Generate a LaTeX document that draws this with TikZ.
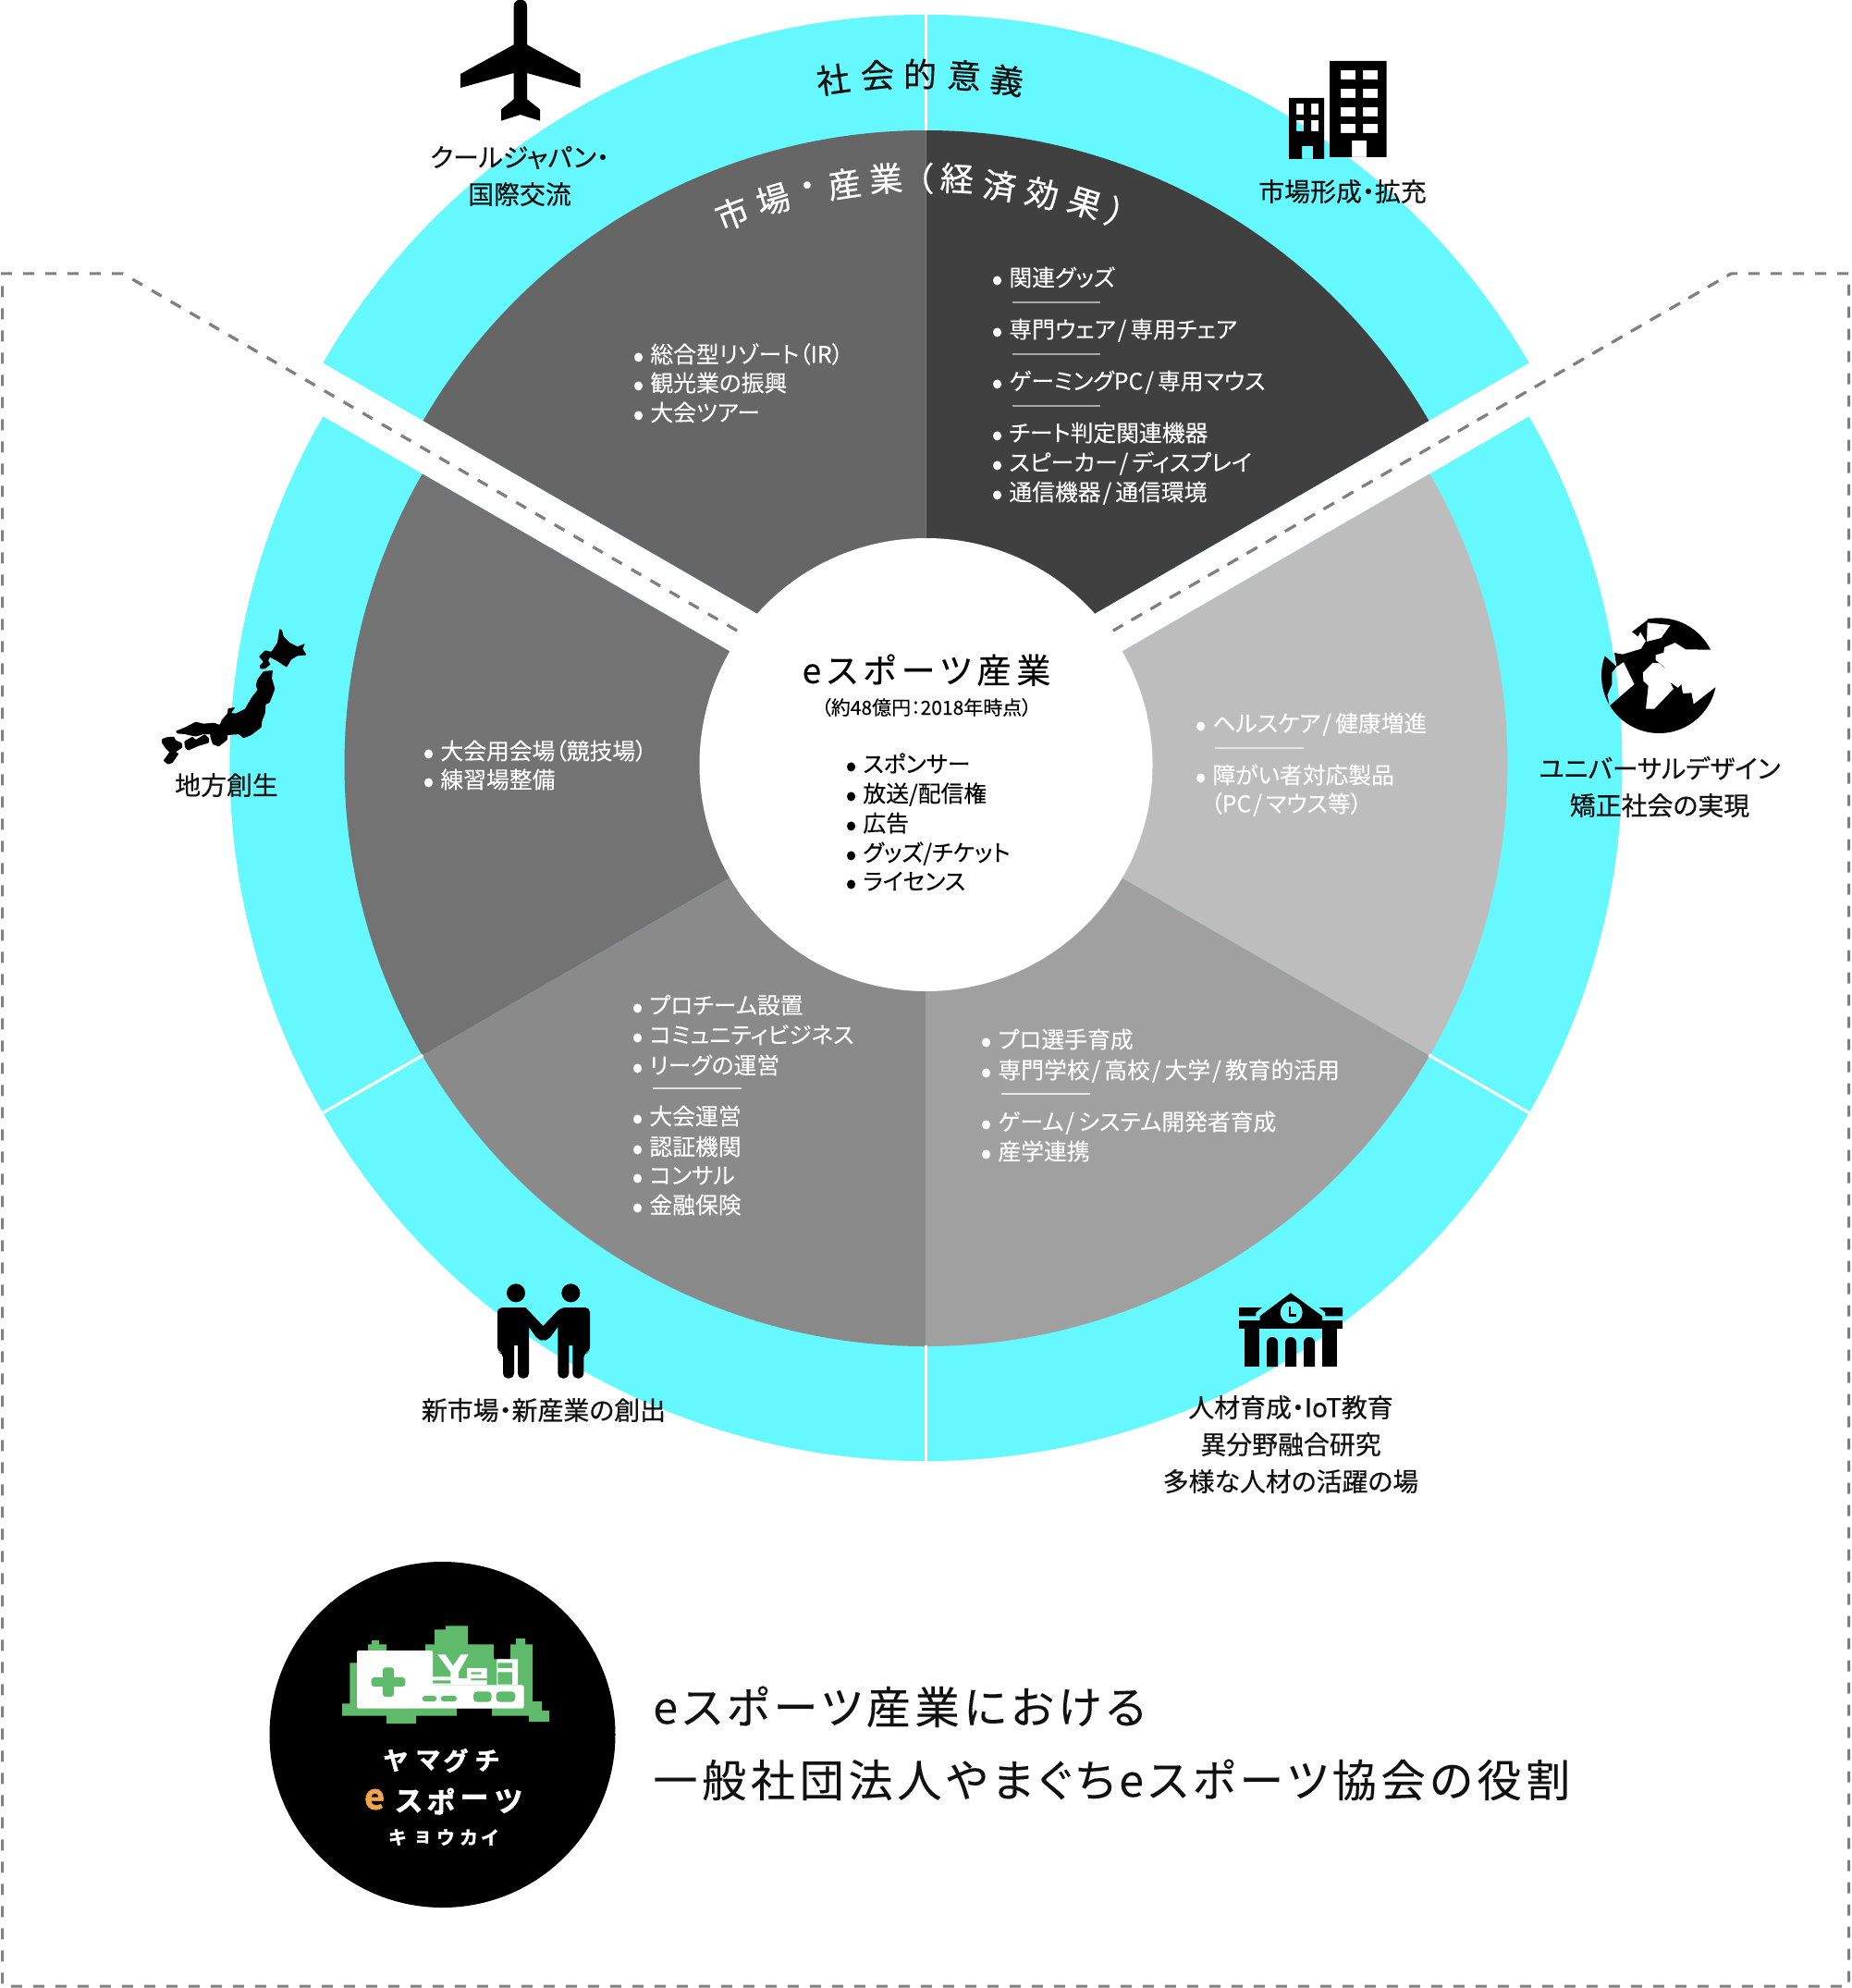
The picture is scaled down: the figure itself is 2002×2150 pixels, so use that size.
\documentclass[tikz,border=0pt]{standalone}
\usepackage{fontspec}
\setmainfont{Noto Sans CJK JP}[RawFeature=+palt]
\newfontfamily\jpl{Noto Sans CJK JP}[RawFeature=+palt,FakeBold=0.15]
\newfontfamily\jpm{Noto Sans CJK JP}[RawFeature=+palt,FakeBold=0.45]
\newfontfamily\jpa{Noto Sans CJK JP}[RawFeature=+palt,FakeBold=0.55]
\newfontfamily\jpt{Noto Sans CJK JP}[RawFeature=+palt,LetterSpace=16,FakeBold=0.3]
\newfontfamily\jph{Noto Sans CJK JP}[RawFeature=+palt,LetterSpace=10,FakeBold=0.15]
\newfontfamily\jplogo{Noto Sans CJK JP Bold}[FakeBold=1.8]
\definecolor{ringc}{HTML}{66F8FF}
\definecolor{sTR}{HTML}{404040}
\definecolor{sTL}{HTML}{666666}
\definecolor{sL}{HTML}{737373}
\definecolor{sBL}{HTML}{8A8A8A}
\definecolor{sBR}{HTML}{A0A0A0}
\definecolor{sR}{HTML}{BDBDBD}
\definecolor{dashc}{HTML}{808080}
\definecolor{rulec}{HTML}{A8A8A8}
\definecolor{logog}{HTML}{5FBA6B}
\definecolor{logoo}{HTML}{F0A54A}
\definecolor{txtc}{HTML}{111111}
\newcounter{nodec}
\newcommand{\pie}[6]{\fill[#1] (#2,#3) -- ++(#4:#6) arc[start angle=#4,end angle=#5,radius=#6] -- cycle;}
\newcommand{\ch}[5][]{\stepcounter{nodec}\node[arcch,#1,rotate=#4] (c\thenodec) at (#2,#3) {#5};}
\newcommand{\blt}{\makebox[9.5pt][l]{\smash{\raisebox{-2.3pt}{\fontsize{18}{18}\selectfont •}}}}
\newcommand{\sla}{\hspace{.08em}/\hspace{.16em}}
\newcommand{\li}[4][black]{\stepcounter{nodec}\node[listt,text=#1] (l\thenodec) at (#2,#3) {#4};}
\newcommand{\lab}[3]{\stepcounter{nodec}\node[labt] (b\thenodec) at (#1,#2) {#3};}
\tikzset{
 arcch/.style={inner sep=0pt,anchor=center},
 listt/.style={inner sep=0pt,anchor=base west,yshift=-4.7pt,font=\fontsize{12.4}{12.4}\selectfont\jpl},
 labt/.style={inner sep=0pt,anchor=base,yshift=-5.3pt,text=txtc,font=\fontsize{13.95}{13.95}\selectfont\jpm},
 sepline/.style={white,line width=1.6pt},
 rulel/.style={rulec,line width=1pt},
 framel/.style={dashc,line width=1.5pt,dash pattern=on 6pt off 6pt},
}
\begin{document}
\begin{tikzpicture}[x=0.5pt,y=0.5pt]
\useasboundingbox (0,-2150) rectangle (2002,0);
% frame
\coordinate (f1) at (797,-682); \coordinate (f2) at (133,-296); \coordinate (f3) at (2.5,-296);
\coordinate (f4) at (2.5,-2148); \coordinate (f5) at (1999.5,-2148); \coordinate (f6) at (1999.5,-296);
\coordinate (f7) at (1872,-296); \coordinate (f8) at (1204,-682);
\draw[framel] (f1)--(f2)--(f3)--(f4)--(f5)--(f6)--(f7)--(f8);
% rings
\pie{ringc}{1001.5}{-769}{30}{150}{753}
\pie{ringc}{1001.5}{-827}{150}{390}{753}
\pie{sTR}{1001.5}{-769}{30}{90}{628}
\pie{sTL}{1001.5}{-769}{90}{150}{628}
\pie{sL}{1001.5}{-827}{150}{210}{629}
\pie{sBL}{1001.5}{-827}{210}{270}{629}
\pie{sBR}{1001.5}{-827}{270}{330}{629}
\pie{sR}{1001.5}{-827}{330}{390}{629}
\coordinate (T) at (1001.5,-769); \coordinate (L) at (1001.5,-827);
\draw[sepline] (T)++(90:628)--++(90:125);
\draw[sepline] (L)++(270:628)--++(270:125);
\draw[sepline] (L)++(210:628)--++(210:125);
\draw[sepline] (L)++(330:628)--++(330:125);
\fill[white] (L) circle[radius=245];
% frame ends over the gap
\draw[framel] (f1)--(f2);
\draw[framel] (f8)--(f7);
% arc titles
\begin{scope}[every node/.append style={text=txtc,font=\fontsize{18}{18}\selectfont\jpa}]
\ch{901}{-86}{8}{社}\ch{949}{-81.5}{4}{会}\ch{995}{-80}{0}{的}\ch{1043}{-81.5}{-4}{意}\ch{1089}{-87}{-8}{義}
\end{scope}
\begin{scope}[every node/.append style={text=white,font=\fontsize{18}{18}\selectfont\jpa}]
\ch{792}{-231}{21}{市}\ch{836}{-216}{16.6}{場}\ch{874}{-205}{12.7}{・}\ch{913}{-199}{8.8}{産}\ch{958}{-193}{4.3}{業}
\ch{1000}{-193}{0}{（}\ch{1035}{-193}{-3.3}{経}\ch{1081}{-201}{-8}{済}\ch{1127}{-209}{-12.7}{効}\ch{1173}{-220}{-17.4}{果}\ch{1207}{-230}{-21}{）}
\end{scope}
% lists: top right
\li[white]{1072}{-300}{\blt 関連グッズ}
\li[white]{1072}{-356}{\blt 専門ウェア\sla 専用チェア}
\li[white]{1072}{-412}{\blt ゲーミングPC\sla 専用マウス}
\li[white]{1072}{-468}{\blt チート判定関連機器}
\li[white]{1072}{-500}{\blt スピーカー\sla ディスプレイ}
\li[white]{1072}{-532}{\blt 通信機器\sla 通信環境}
\coordinate (r1a) at (1095,-327); \coordinate (r1b) at (1190,-327);
\coordinate (r2a) at (1095,-383); \coordinate (r2b) at (1190,-383);
\coordinate (r3a) at (1095,-439); \coordinate (r3b) at (1190,-439);
\draw[rulel] (r1a)--(r1b); \draw[rulel] (r2a)--(r2b); \draw[rulel] (r3a)--(r3b);
% top left
\li[white]{684}{-383}{\blt 総合型リゾート（IR）}
\li[white]{684}{-414}{\blt 観光業の振興}
\li[white]{684}{-446}{\blt 大会ツアー}
% left
\li[white]{457}{-812}{\blt 大会用会場（競技場）}
\li[white]{457}{-843}{\blt 練習場整備}
% bottom left
\li[white]{683}{-1087}{\blt プロチーム設置}
\li[white]{683}{-1119}{\blt コミュニティビジネス}
\li[white]{683}{-1152}{\blt リーグの運営}
\li[white]{683}{-1207}{\blt 大会運営}
\li[white]{683}{-1240}{\blt 認証機関}
\li[white]{683}{-1271}{\blt コンサル}
\li[white]{683}{-1303}{\blt 金融保険}
\coordinate (r4a) at (706,-1177); \coordinate (r4b) at (802,-1177);
\draw[rulel,white!75!sBL] (r4a)--(r4b);
% bottom right
\li[white]{1060}{-1124}{\blt プロ選手育成}
\li[white]{1060}{-1157}{\blt 専門学校\sla 高校\sla 大学\sla 教育的活用}
\li[white]{1060}{-1213}{\blt ゲーム\sla システム開発者育成}
\li[white]{1060}{-1245}{\blt 産学連携}
\coordinate (r5a) at (1083,-1183); \coordinate (r5b) at (1179,-1183);
\draw[rulel,white!75!sBR] (r5a)--(r5b);
% right
\li[white]{1292}{-782}{\blt ヘルスケア\sla 健康増進}
\li[white]{1292}{-838}{\blt 障がい者対応製品}
\li[white]{1309}{-869}{（PC\sla マウス等）}
\coordinate (r6a) at (1314,-809); \coordinate (r6b) at (1410,-809);
\draw[rulel,white!60!sR] (r6a)--(r6b);
% centre
\node[inner sep=0pt,anchor=base,yshift=-6.9pt,font=\fontsize{18.5}{18.5}\selectfont\jpt,text=black] (ctitle) at (1002,-725) {eスポーツ産業};
\node[inner sep=0pt,anchor=base,yshift=-4pt,font=\fontsize{10.5}{10.5}\selectfont\jpl,text=black] (csub) at (1002,-765) {（約48億円：2018年時点）};
\li{914}{-826}{\blt スポンサー}
\li{914}{-858}{\blt 放送/配信権}
\li{914}{-890}{\blt 広告}
\li{914}{-922}{\blt グッズ/チケット}
\li{914}{-953}{\blt ライセンス}
% labels
\lab{562}{-170}{クールジャパン・}
\lab{562}{-210}{国際交流}
\lab{1452}{-207}{市場形成・拡充}
\lab{245}{-849}{地方創生}
\lab{1795}{-831}{ユニバーサルデザイン}
\lab{1795}{-871}{矯正社会の実現}
\lab{588}{-1525}{新市場・新産業の創出}
\lab{1396}{-1522}{人材育成・IoT教育}
\lab{1396}{-1562}{異分野融合研究}
\lab{1396}{-1602}{多様な人材の活躍の場}
% plane
\begin{scope}[shift={(480,0)},scale=1/3]
\fill[black] (227,-20) arc[start angle=180,end angle=0,radius=21.5] -- (270,-145) -- (443,-240) -- (443,-285) -- (270,-237) -- (270,-322) -- (312,-355) -- (312,-392) -- (248,-372) -- (186,-392) -- (186,-355) -- (227,-322) -- (227,-237) -- (54,-285) -- (54,-240) -- (227,-145) -- cycle;
\end{scope}
% buildings
\begin{scope}[shift={(1380,-50)},scale=1/3]
\fill[black,even odd rule] (174,-48) rectangle (359,-360) (246,-306) rectangle (294,-360)
 (210,-78) rectangle (258,-108) (282,-78) rectangle (330,-108)
 (210,-138) rectangle (258,-168) (282,-138) rectangle (330,-168)
 (210,-198) rectangle (258,-228) (282,-198) rectangle (330,-228)
 (210,-252) rectangle (258,-282) (282,-252) rectangle (330,-282);
\fill[black,even odd rule] (42,-168) rectangle (156,-366) (84,-324) rectangle (120,-366)
 (66,-186) rectangle (90,-222) (114,-186) rectangle (138,-222)
 (66,-240) rectangle (90,-276) (114,-240) rectangle (138,-276);
\end{scope}
% globe
\begin{scope}[shift={(1700,-640)},scale=1/3]
\clip (283,-272) circle[radius=187];
\fill[black,even odd rule] (245,-92) -- (245,-60) -- (470,-60) -- (470,-188) -- (450,-188) -- (370,-187) -- (335,-165) -- (300,-180) -- (298,-197) -- (272,-205) -- (272,-222) -- (303,-248) -- (285,-232) -- (262,-230) -- (230,-262) -- (232,-290) -- (248,-305) -- (240,-380) -- (268,-380) -- (330,-315) -- (320,-295) -- (345,-312) -- (355,-300) -- (360,-330) -- (388,-328) -- (395,-365) -- (468,-308) -- (500,-308) -- (500,-500) -- (60,-500) -- (60,-420) -- (125,-368) -- (203,-300) -- (168,-228) -- (145,-243) -- (138,-198) -- (165,-203) -- (225,-185) -- (240,-160) -- (222,-130) -- (215,-145) -- (195,-130) -- cycle
 (245,-100) -- (320,-108) -- (290,-150) -- (243,-162) -- cycle;
\fill[black] (107,-208) -- (145,-243) -- (130,-262) -- (130,-300) -- (115,-335) -- (122,-368) -- (60,-368) -- (60,-208) -- cycle;
\end{scope}
% Japan
\begin{scope}[shift={(140,-640)},scale=1/3,rounded corners=0.4pt]
\fill[black] (487,-120) -- (495,-125) -- (500,-145) -- (520,-165) -- (545,-178) -- (570,-168) -- (562,-185) -- (575,-205) -- (545,-208) -- (525,-220) -- (510,-245) -- (480,-225) -- (455,-212) -- (450,-225) -- (458,-235) -- (440,-250) -- (425,-250) -- (422,-240) -- (435,-228) -- (420,-210) -- (440,-190) -- (460,-195) -- (480,-165) -- cycle;
\fill[black] (435,-258) -- (465,-255) -- (462,-280) -- (472,-315) -- (455,-360) -- (442,-365) -- (440,-395) -- (430,-420) -- (428,-440) -- (395,-465) -- (370,-475) -- (355,-462) -- (318,-465) -- (318,-480) -- (290,-502) -- (270,-495) -- (262,-470) -- (262,-462) -- (240,-462) -- (215,-470) -- (180,-462) -- (155,-460) -- (150,-452) -- (180,-440) -- (215,-422) -- (240,-428) -- (275,-425) -- (293,-432) -- (300,-415) -- (318,-395) -- (320,-378) -- (343,-375) -- (330,-393) -- (345,-395) -- (375,-380) -- (395,-345) -- (416,-318) -- (410,-305) -- (415,-285) -- cycle;
\fill[black] (178,-485) -- (205,-470) -- (215,-480) -- (245,-462) -- (258,-475) -- (258,-490) -- (225,-500) -- (190,-515) -- (180,-505) -- cycle;
\fill[black] (105,-478) -- (120,-472) -- (145,-470) -- (150,-482) -- (170,-490) -- (172,-505) -- (150,-520) -- (160,-525) -- (140,-555) -- (125,-560) -- (110,-548) -- (130,-520) -- (115,-505) -- (105,-490) -- cycle;
\end{scope}
% school
\begin{scope}[shift={(1300,-1380)},scale=1/3]
\fill[black] (288,-55) -- (390,-130) -- (390,-145) -- (188,-145) -- (188,-130) -- cycle;
\fill[black] (120,-102) -- (195,-102) -- (175,-118) -- (175,-130) -- (120,-130) -- cycle;
\fill[black] (456,-102) -- (380,-102) -- (400,-118) -- (400,-130) -- (456,-130) -- cycle;
\fill[black] (120,-145) rectangle (456,-172);
\fill[ringc] (290,-118) circle[radius=36];
\draw[black,line width=1.2pt] (285,-100) -- (285,-128) -- (305,-128);
\fill[black] (138,-172) rectangle (186,-294);
\fill[black] (390,-172) rectangle (438,-294);
\foreach \xx in {210,270,330}{
\fill[black] (\xx,-294) -- (\xx,-216) arc[start angle=180,end angle=0,radius=18] -- (\xx+36,-294) -- cycle;}
\end{scope}
% people
\begin{scope}[shift={(500,-1370)},scale=1/3]
\fill[black] (174,-85) circle[radius=30];
\fill[black] (352,-85) circle[radius=30];
\fill[black,rounded corners=2.6pt] (114,-150) -- (114,-278) -- (132,-278) -- (132,-362) -- (168,-362) [sharp corners] -- (168,-255) -- (180,-255) [rounded corners=2.6pt] -- (180,-362) -- (216,-362) [sharp corners] -- (216,-195) [rounded corners=2pt] -- (245,-236) -- (262,-240) -- (280,-236) [sharp corners] -- (310,-195) [rounded corners=2.6pt] -- (310,-362) -- (346,-362) [sharp corners] -- (346,-255) -- (358,-255) [rounded corners=2.6pt] -- (358,-362) -- (394,-362) -- (394,-278) -- (414,-278) -- (414,-132) -- (320,-132) [sharp corners] -- (262,-192) -- (205,-132) [rounded corners=2.6pt] -- (114,-132) -- cycle;
\end{scope}
% logo
\fill[black] (478.5,-1876) circle[radius=187];
\begin{scope}[shift={(260,-1700)},scale=1/3]
\fill[logog] (330,-467) -- (330,-427) -- (355,-427) -- (355,-295) -- (414,-295) -- (414,-235) -- (426,-235) -- (426,-222) -- (450,-222) -- (450,-235) -- (474,-235) -- (474,-255) -- (600,-255) -- (600,-235) -- (630,-235) -- (630,-187) -- (666,-187) -- (666,-175) -- (738,-175) -- (738,-235) -- (822,-235) -- (822,-283) -- (876,-283) -- (876,-235) -- (894,-235) -- (894,-216) -- (924,-216) -- (924,-235) -- (948,-235) -- (948,-420) -- (978,-420) -- (978,-450) -- (1002,-450) -- (1002,-486) -- (936,-486) -- (936,-467) -- (816,-467) -- (816,-443) -- (702,-443) -- (702,-467) -- (570,-467) -- (570,-492) -- (474,-492) -- (474,-467) -- cycle;
\fill[white,rounded corners=1pt] (378,-443) -- (378,-255) -- (624,-255) -- (624,-367) -- (920,-367) -- (920,-443) -- cycle;
\fill[white] (640,-268) -- (665,-268) -- (690,-305) -- (715,-268) -- (740,-268) -- (708,-325) -- (708,-345) -- (735,-345) -- (735,-367) -- (624,-367) -- (624,-362) -- (682,-362) -- (682,-352) -- (624,-352) -- (624,-340) -- (682,-340) -- (682,-325) -- cycle;
\fill[white,even odd rule] (735,-312) rectangle (800,-367) (748,-325) rectangle (782,-332) (748,-345) rectangle (800,-352);
\fill[white,even odd rule] (832,-283) rectangle (900,-367) (835,-295) rectangle (882,-312) (835,-325) rectangle (882,-365);
\fill[logog,rounded corners=1.5pt] (462,-310) rectangle (498,-405);
\fill[logog,rounded corners=1.5pt] (425,-342) rectangle (535,-372);
\fill[logog,rounded corners=1.5pt] (590,-402) rectangle (637,-420);
\fill[logog,rounded corners=1.5pt] (650,-402) rectangle (702,-420);
\fill[logog,rounded corners=2pt] (756,-388) rectangle (815,-422);
\fill[logog,rounded corners=2pt] (830,-388) rectangle (892,-422);
\end{scope}
\begin{scope}[every node/.append style={text=white,font=\fontsize{13.5}{13.5}\selectfont\jplogo}]
\ch{428}{-1904}{0}{ヤ}\ch{463}{-1904}{0}{マ}\ch{493}{-1904}{0}{グ}\ch{527}{-1904}{0}{チ}
\end{scope}
\begin{scope}[every node/.append style={text=white,font=\fontsize{15.5}{15.5}\selectfont\jplogo}]
\ch[text=logoo,font=\fontsize{19}{19}\selectfont\jplogo]{405}{-1946}{0}{e}\ch{442}{-1948}{0}{ス}\ch{477}{-1948}{0}{ポ}\ch{513}{-1948}{0}{ー}\ch{550}{-1948}{0}{ツ}
\end{scope}
\begin{scope}[every node/.append style={text=white,font=\fontsize{10}{10}\selectfont\jplogo}]
\ch{430}{-1987}{0}{キ}\ch{457}{-1987}{0}{ョ}\ch{482}{-1987}{0}{ウ}\ch{507}{-1987}{0}{カ}\ch{530}{-1987}{0}{イ}
\end{scope}
% bottom heading
\node[inner sep=0pt,anchor=base west,yshift=-9.1pt,text=txtc,font=\fontsize{24}{24}\selectfont\jph] (h1) at (706,-1846) {eスポーツ産業における};
\node[inner sep=0pt,anchor=base west,yshift=-9.1pt,text=txtc,font=\fontsize{24}{24}\selectfont\jph] (h2) at (706,-1925) {一般社団法人やまぐちeスポーツ協会の役割};
\end{tikzpicture}
\end{document}
